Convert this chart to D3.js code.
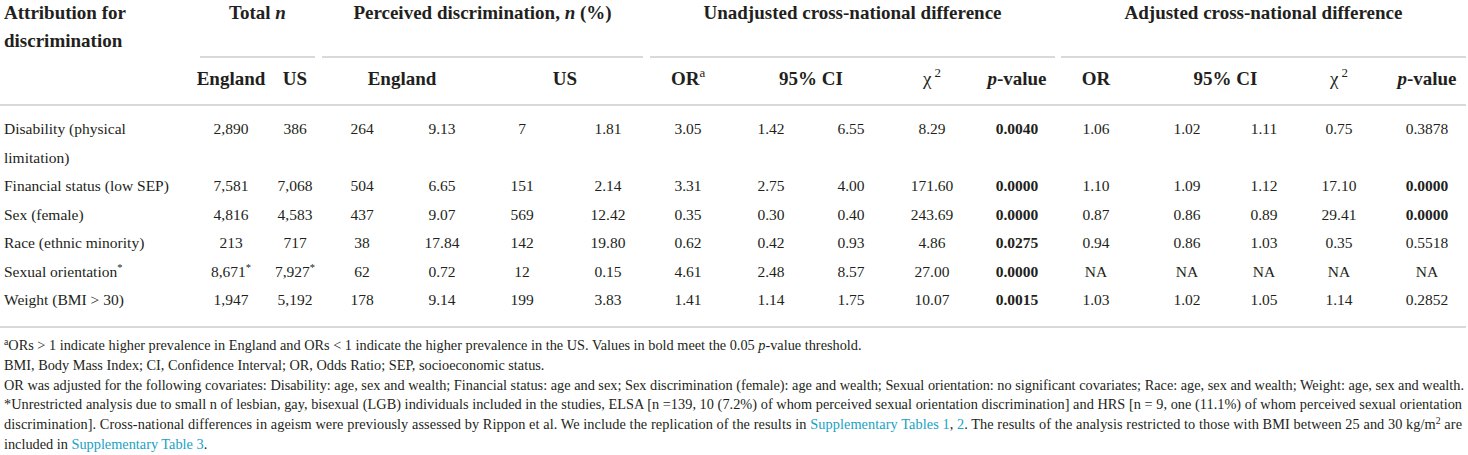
<html>
<head>
<meta charset="UTF-8">
<title>Perceived discrimination, England vs US</title>
<script src="https://d3js.org/d3.v7.min.js"></script>
<style>
  body { margin: 0; background: #fff; }
  svg { display: block; }
  svg text { font-family: "Liberation Serif", "Times New Roman", serif; }
</style>
</head>
<body>
<script>
var categories = ["Disability (physical|limitation)", "Financial status (low SEP)", "Sex (female)",
                  "Race (ethnic minority)", "Sexual orientation*", "Weight (BMI > 30)"];
var starred = [false, false, false, false, true, false];
var totalEngland = [2890, 7581, 4816, 213, 8671, 1947];
var totalUS = [386, 7068, 4583, 717, 7927, 5192];
var percEnglandN = [264, 504, 437, 38, 62, 178];
var percEnglandPct = [9.13, 6.65, 9.07, 17.84, 0.72, 9.14];
var percUSN = [7, 151, 569, 142, 12, 199];
var percUSPct = [1.81, 2.14, 12.42, 19.80, 0.15, 3.83];
var unadjOR = [3.05, 3.31, 0.35, 0.62, 4.61, 1.41];
var unadjLo = [1.42, 2.75, 0.30, 0.42, 2.48, 1.14];
var unadjHi = [6.55, 4.00, 0.40, 0.93, 8.57, 1.75];
var unadjChi = [8.29, 171.60, 243.69, 4.86, 27.00, 10.07];
var unadjP = [0.0040, 0.0000, 0.0000, 0.0275, 0.0000, 0.0015];
var adjOR = [1.06, 1.10, 0.87, 0.94, null, 1.03];
var adjLo = [1.02, 1.09, 0.86, 0.86, null, 1.02];
var adjHi = [1.11, 1.12, 0.89, 1.03, null, 1.05];
var adjChi = [0.75, 17.10, 29.41, 0.35, null, 1.14];
var adjP = [0.3878, 0.0000, 0.0000, 0.5518, null, 0.2852];

var groupTitles = [
  [{t: "Total "}, {t: "n", i: true}],
  [{t: "Perceived discrimination, "}, {t: "n", i: true}, {t: " (%)"}],
  [{t: "Unadjusted cross-national difference"}],
  [{t: "Adjusted cross-national difference"}]
];

var footnotes = [
  [{t: "a", sup: true}, {t: "ORs > 1 indicate higher prevalence in England and ORs < 1 indicate the higher prevalence in the US. Values in bold meet the 0.05 "}, {t: "p", i: true}, {t: "-value threshold."}],
  [{t: "BMI, Body Mass Index; CI, Confidence Interval; OR, Odds Ratio; SEP, socioeconomic status."}],
  [{t: "OR was adjusted for the following covariates: Disability: age, sex and wealth; Financial status: age and sex; Sex discrimination (female): age and wealth; Sexual orientation: no significant covariates; Race: age, sex and wealth; Weight: age, sex and wealth."}],
  [{t: "*Unrestricted analysis due to small n of lesbian, gay, bisexual (LGB) individuals included in the studies, ELSA [n =139, 10 (7.2%) of whom perceived sexual orientation discrimination] and HRS [n = 9, one (11.1%) of whom perceived sexual orientation"}],
  [{t: "discrimination]. Cross-national differences in ageism were previously assessed by Rippon et al. We include the replication of the results in "}, {t: "Supplementary Tables 1", link: true}, {t: ", "}, {t: "2", link: true}, {t: ". The results of the analysis restricted to those with BMI between 25 and 30 kg/m"}, {t: "2", sup: true}, {t: " are"}],
  [{t: "included in "}, {t: "Supplementary Table 3", link: true}, {t: "."}]
];
var justified = [false, false, false, true, true, false];

// ---- layout ----
var width = 1468, height = 455;
var ink = "#231f20", rule = "#cccccc", linkColor = "#17a2c4";
var headSize = 19, bodySize = 15.5, noteSize = 14.3;

var colKeys = ["totEng", "totUS", "engN", "engPct", "usN", "usPct",
               "uOR", "uLo", "uHi", "uChi", "uP", "aOR", "aLo", "aHi", "aChi", "aP"];
var x = d3.scaleOrdinal()
  .domain(colKeys)
  .range([231, 295, 362, 442, 522, 608, 688, 771, 851, 932, 1017, 1096, 1187, 1264, 1339, 1427]);
var groupSpan = [[200, 315], [322, 643], [650, 1055], [1061, 1466]];

// one slot per text line in the body; Disability uses two
var slot = d3.scaleLinear().domain([0, 6]).range([129, 300]);
var rowSlot = categories.map(function(d, i) { return i === 0 ? 0 : i + 1; });
var noteY = d3.scaleLinear().domain([0, 5]).range([345, 444]);

var f2 = d3.format(".2f"), f4 = d3.format(".4f"), fc = d3.format(",");

var svg = d3.select("body").append("svg")
  .attr("width", width).attr("height", height)
  .attr("fill", ink);

// baseline for a line whose visual centre is at y
function base(y, size) { return y + size * 0.35; }

// rich text helper: parts of {t, i, nb, sup, link}
function rich(sel, parts, size) {
  var shift = 0;
  parts.forEach(function(p) {
    var ts = sel.append("tspan").text(p.t);
    if (p.i) ts.attr("font-style", "italic");
    if (p.nb) ts.attr("font-weight", "normal");
    if (p.link) ts.attr("fill", linkColor);
    if (p.sup) {
      ts.attr("font-size", size * 0.68).attr("dy", -size * 0.38 - shift);
      shift = -size * 0.38;
    } else if (shift !== 0) {
      ts.attr("dy", -shift);
      shift = 0;
    }
  });
  return sel;
}

// ---- header ----
var head = svg.append("g").attr("font-weight", "bold").attr("font-size", headSize);

head.selectAll("text.attr")
  .data(["Attribution for", "discrimination"])
  .enter().append("text")
  .attr("x", 4)
  .attr("y", function(d, i) { return base(12 + i * 28, headSize); })
  .text(function(d) { return d; });

head.selectAll("text.group")
  .data(groupTitles)
  .enter().append("text")
  .attr("x", function(d, i) { return (groupSpan[i][0] + groupSpan[i][1]) / 2; })
  .attr("y", base(12, headSize))
  .attr("text-anchor", "middle")
  .each(function(d) { rich(d3.select(this), d, headSize); });

svg.selectAll("line.group")
  .data(groupSpan)
  .enter().append("line")
  .attr("x1", function(d) { return d[0]; })
  .attr("x2", function(d) { return d[1]; })
  .attr("y1", 57).attr("y2", 57)
  .attr("stroke", rule).attr("stroke-width", 1.5);

function mid(a, b) { return (x(a) + x(b)) / 2; }
var subHeads = [
  {cx: x("totEng"), parts: [{t: "England"}]},
  {cx: x("totUS"), parts: [{t: "US"}]},
  {cx: mid("engN", "engPct"), parts: [{t: "England"}]},
  {cx: mid("usN", "usPct"), parts: [{t: "US"}]},
  {cx: x("uOR"), parts: [{t: "OR"}, {t: "a", sup: true, nb: true}]},
  {cx: mid("uLo", "uHi"), parts: [{t: "95% CI"}]},
  {cx: x("uChi"), parts: [{t: "χ", nb: true}, {t: " 2", sup: true, nb: true}]},
  {cx: x("uP"), parts: [{t: "p", i: true}, {t: "-value"}]},
  {cx: x("aOR"), parts: [{t: "OR"}]},
  {cx: mid("aLo", "aHi"), parts: [{t: "95% CI"}]},
  {cx: x("aChi"), parts: [{t: "χ", nb: true}, {t: " 2", sup: true, nb: true}]},
  {cx: x("aP"), parts: [{t: "p", i: true}, {t: "-value"}]}
];
head.selectAll("text.sub")
  .data(subHeads)
  .enter().append("text")
  .attr("x", function(d) { return d.cx; })
  .attr("y", base(78, headSize))
  .attr("text-anchor", "middle")
  .each(function(d) { rich(d3.select(this), d.parts, headSize); });

svg.append("line")
  .attr("x1", 0).attr("x2", 1466).attr("y1", 105).attr("y2", 105)
  .attr("stroke", rule).attr("stroke-width", 1.5);

// ---- body ----
var rows = categories.map(function(c, i) {
  var na = function(v, f) { return v === null ? "NA" : f(v); };
  return {
    label: c.split("|"),
    y: slot(rowSlot[i]),
    cells: [
      {k: "totEng", v: fc(totalEngland[i]), star: starred[i]},
      {k: "totUS", v: fc(totalUS[i]), star: starred[i]},
      {k: "engN", v: percEnglandN[i]},
      {k: "engPct", v: f2(percEnglandPct[i])},
      {k: "usN", v: percUSN[i]},
      {k: "usPct", v: f2(percUSPct[i])},
      {k: "uOR", v: f2(unadjOR[i])},
      {k: "uLo", v: f2(unadjLo[i])},
      {k: "uHi", v: f2(unadjHi[i])},
      {k: "uChi", v: f2(unadjChi[i])},
      {k: "uP", v: f4(unadjP[i]), bold: unadjP[i] < 0.05},
      {k: "aOR", v: na(adjOR[i], f2)},
      {k: "aLo", v: na(adjLo[i], f2)},
      {k: "aHi", v: na(adjHi[i], f2)},
      {k: "aChi", v: na(adjChi[i], f2)},
      {k: "aP", v: na(adjP[i], f4), bold: adjP[i] !== null && adjP[i] < 0.05}
    ]
  };
});

var body = svg.append("g").attr("font-size", bodySize);
var row = body.selectAll("g.row")
  .data(rows)
  .enter().append("g")
  .attr("transform", function(d) { return "translate(0," + d.y + ")"; });

row.selectAll("text.label")
  .data(function(d) { return d.label; })
  .enter().append("text")
  .attr("x", 4)
  .attr("y", function(d, i) { return base(i * (slot(1) - slot(0)), bodySize); })
  .each(function(d) {
    var s = d3.select(this);
    if (d.slice(-1) === "*") rich(s, [{t: d.slice(0, -1)}, {t: "*", sup: true}], bodySize);
    else s.text(d);
  });

row.selectAll("text.cell")
  .data(function(d) { return d.cells; })
  .enter().append("text")
  .attr("x", function(d) { return x(d.k); })
  .attr("y", base(0, bodySize))
  .attr("text-anchor", "middle")
  .attr("font-weight", function(d) { return d.bold ? "bold" : "normal"; })
  .each(function(d) {
    var s = d3.select(this);
    if (d.star) rich(s, [{t: String(d.v)}, {t: "*", sup: true}], bodySize);
    else s.text(d.v);
  });

svg.append("line")
  .attr("x1", 0).attr("x2", 1466).attr("y1", 327).attr("y2", 327)
  .attr("stroke", rule).attr("stroke-width", 1.5);

// ---- footnotes ----
var notes = svg.append("g").attr("font-size", noteSize);
notes.selectAll("text")
  .data(footnotes)
  .enter().append("text")
  .attr("x", 4)
  .attr("y", function(d, i) { return base(noteY(i), noteSize); })
  .each(function(d, i) {
    var s = d3.select(this);
    rich(s, d, noteSize);
    if (justified[i]) s.attr("textLength", 1458).attr("lengthAdjust", "spacing");
  });
</script>
</body>
</html>
